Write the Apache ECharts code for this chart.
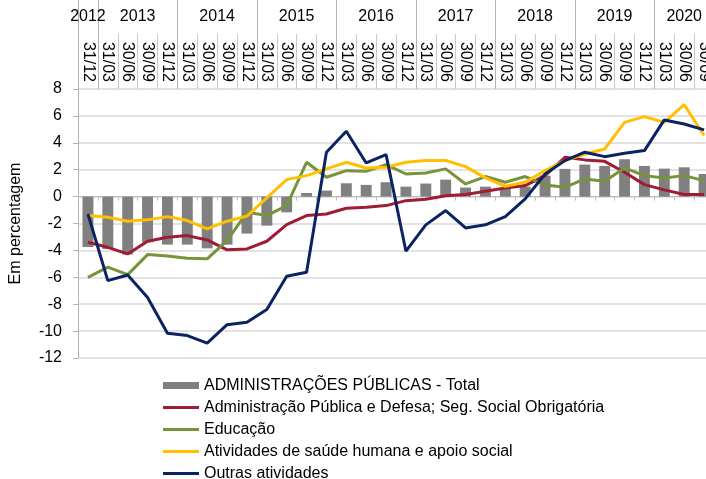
<!DOCTYPE html>
<html>
<head>
<meta charset="utf-8">
<script src="https://cdn.jsdelivr.net/npm/echarts@6/dist/echarts.min.js"></script>
<style>
html,body{margin:0;padding:0;background:#fff;overflow:hidden;width:706px;height:479px;}
#chart{width:717px;height:510px;}
</style>
</head>
<body>
<div id="chart"></div>
<script>
var quarters = ['31/12',
  '31/03','30/06','30/09','31/12',
  '31/03','30/06','30/09','31/12',
  '31/03','30/06','30/09','31/12',
  '31/03','30/06','30/09','31/12',
  '31/03','30/06','30/09','31/12',
  '31/03','30/06','30/09','31/12',
  '31/03','30/06','30/09','31/12',
  '31/03','30/06','30/09'];
var years = ['2012','2013','2014','2015','2016','2017','2018','2019','2020'];
// centre of each year group, measured in quarter units from the left edge
var yearCentres = [0.5, 3, 7, 11, 15, 19, 23, 27, 30.5];

var adminTotal = [-3.75,-3.9,-4.3,-3.4,-3.57,-3.57,-3.85,-3.57,-2.75,-2.16,-1.17,0.27,0.45,0.99,0.87,1.07,0.74,0.97,1.26,0.67,0.74,0.64,0.74,1.56,2.06,2.38,2.28,2.78,2.28,2.08,2.18,1.68];
var adminDefesa = [-3.4,-3.77,-4.26,-3.32,-3.02,-2.9,-3.22,-3.96,-3.89,-3.32,-2.08,-1.41,-1.29,-0.87,-0.79,-0.67,-0.3,-0.2,0.07,0.15,0.4,0.64,0.82,1.56,2.92,2.73,2.62,1.81,0.89,0.5,0.15,0.15];
var educacao = [-6.0,-5.25,-5.8,-4.31,-4.41,-4.58,-4.63,-3.27,-1.17,-1.41,-0.67,2.55,1.44,1.93,1.88,2.38,1.68,1.76,2.06,0.94,1.49,1.07,1.49,0.87,0.69,1.31,1.14,2.13,1.56,1.39,1.56,1.19];
var saude = [-1.41,-1.54,-1.83,-1.73,-1.49,-1.78,-2.4,-1.83,-1.45,-0.1,1.26,1.56,2.06,2.55,2.13,2.18,2.55,2.68,2.68,2.23,1.39,0.77,1.07,1.93,2.68,3.17,3.54,5.52,5.95,5.52,6.84,4.54];
var outras = [-1.29,-6.25,-5.83,-7.5,-10.16,-10.33,-10.9,-9.52,-9.34,-8.4,-5.92,-5.62,3.3,4.86,2.5,3.12,-4.06,-2.1,-1.04,-2.33,-2.1,-1.49,-0.17,1.68,2.68,3.3,2.97,3.22,3.42,5.7,5.4,4.96];

var names = ['ADMINISTRAÇÕES PÚBLICAS - Total',
  'Administração Pública e Defesa; Seg. Social Obrigatória',
  'Educação',
  'Atividades de saúde humana e apoio social',
  'Outras atividades'];
var colors = ['#808080','#A01C34','#77933C','#FFC000','#0B2461'];

var FONT = '"Liberation Sans", Arial, sans-serif';
var chart = echarts.init(document.getElementById('chart'), null, {renderer:'canvas'});

function lineSeries(idx, data){
  return {
    name: names[idx], type:'line', data:data, xAxisIndex:0, yAxisIndex:0,
    symbol:'none', smooth:false,
    lineStyle:{color:colors[idx], width:3},
    itemStyle:{color:colors[idx]},
    z: 3 + idx
  };
}

var legendText = {fontFamily:FONT, fontSize:16, color:'#000', lineHeight:21};

chart.setOption({
  animation:false,
  textStyle:{fontFamily:FONT},
  grid:{left:71, right:0, top:89, bottom:152, containLabel:false},
  legend:[
    {
      orient:'vertical', left:163, top:375, padding:0,
      itemWidth:36, itemHeight:7, itemGap:1,
      textStyle:legendText,
      data:[{name:names[0], icon:'rect'}]
    },
    {
      orient:'vertical', left:163, top:397, padding:0,
      itemWidth:36, itemHeight:3, itemGap:1,
      textStyle:legendText,
      data:[
        {name:names[1], icon:'rect'},
        {name:names[2], icon:'rect'},
        {name:names[3], icon:'rect'},
        {name:names[4], icon:'rect'}
      ]
    }
  ],
  xAxis:[
    { // quarter labels at the top
      type:'category', position:'top', data:quarters, boundaryGap:true,
      axisLine:{show:false, onZero:false},
      axisTick:{show:true, interval:0, length:55, lineStyle:{color:'#c8c8c8', width:1}},
      axisLabel:{interval:0, rotate:90, margin:7, fontSize:16, color:'#000', fontFamily:FONT},
      splitLine:{show:false}
    },
    { // year separators
      type:'category', position:'top', data:quarters, boundaryGap:true,
      axisLine:{show:false, onZero:false},
      axisTick:{show:true, length:89,
        interval:function(i){ return i===0 || quarters[i]==='31/03'; },
        lineStyle:{color:'#b4b4b4', width:1}},
      axisLabel:{show:false},
      splitLine:{show:false}
    },
    { // year labels
      type:'value', position:'top', min:0, max:32, interval:0.5,
      axisLine:{show:false, onZero:false},
      axisTick:{show:false},
      splitLine:{show:false},
      axisLabel:{show:true, margin:64, fontSize:16, color:'#000', fontFamily:FONT,
        showMinLabel:true, showMaxLabel:true,
        formatter:function(v){
          for (var k=0;k<yearCentres.length;k++){ if (Math.abs(v-yearCentres[k])<1e-6) return years[k]; }
          return '';
        }}
    },
    { // axis on zero with small ticks
      type:'category', position:'bottom', data:quarters, boundaryGap:true,
      axisLine:{show:true, onZero:true, lineStyle:{color:'#bfbfbf', width:1}},
      axisTick:{show:true, interval:0, length:4, lineStyle:{color:'#bfbfbf'}},
      axisLabel:{show:false},
      splitLine:{show:false}
    }
  ],
  yAxis:[{
    type:'value', min:-12, max:8, interval:2,
    name:'Em percentagem', nameLocation:'middle', nameGap:54,
    nameTextStyle:{fontSize:16, color:'#000', fontFamily:FONT},
    axisLine:{show:true, onZero:false, lineStyle:{color:'#b4b4b4', width:1}},
    axisTick:{show:true, length:5, lineStyle:{color:'#b4b4b4'}},
    axisLabel:{fontSize:16, color:'#000', margin:16, fontFamily:FONT},
    splitLine:{show:true, lineStyle:{color:'#d9d9d9', width:1.5}}
  }],
  series:[
    {name:names[0], type:'bar', data:adminTotal, xAxisIndex:0, yAxisIndex:0,
     barCategoryGap:'45%', itemStyle:{color:colors[0]}, z:2},
    lineSeries(1, adminDefesa),
    lineSeries(2, educacao),
    lineSeries(3, saude),
    lineSeries(4, outras)
  ]
});
</script>
</body>
</html>
